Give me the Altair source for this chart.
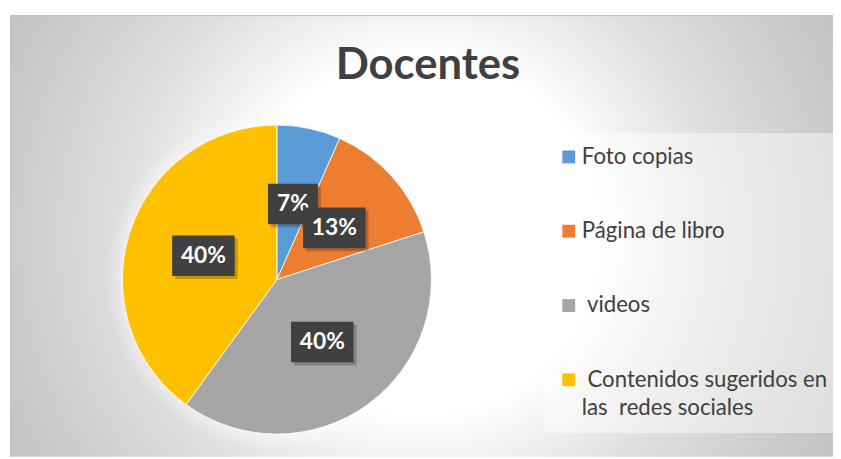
import json
import math
import altair as alt
import pandas as pd

# ---------------- data ----------------
TITLE = "Docentes"
categories = ["Foto copias", "Página de libro", " videos", " Contenidos sugeridos en las  redes sociales"]
counts = [2, 4, 12, 12]
colors = ["#5B9BD5", "#ED7D31", "#A5A5A5", "#FFC000"]
# how each legend entry is written (line breaks / kept spaces)
legend_lines = {
    " videos": ["\u200b\u00a0videos"],
    " Contenidos sugeridos en las  redes sociales": ["\u200b\u00a0Contenidos sugeridos en", "las\u00a0\u00a0redes sociales"],
}

df = pd.DataFrame({"category": categories, "count": counts, "idx": list(range(len(categories)))})

# ---------------- layout ----------------
W, H = 831, 446
CX, CY, R = 269.5, 267, 156

label_expr = "datum.label"
for k, v in legend_lines.items():
    label_expr = f"datum.label === {json.dumps(k, ensure_ascii=False)} ? {json.dumps(v, ensure_ascii=False)} : ({label_expr})"

one = pd.DataFrame({"a": [0]})

bg = alt.Chart(one).mark_rect(
    clip=True,
    color=alt.RadialGradient(
        gradient="radial",
        stops=[
            alt.GradientStop(color="#ffffff", offset=0),
            alt.GradientStop(color="#ffffff", offset=0.38),
            alt.GradientStop(color="#f3f3f3", offset=0.47),
            alt.GradientStop(color="#dfdfdf", offset=0.64),
            alt.GradientStop(color="#cbcbcb", offset=0.88),
            alt.GradientStop(color="#c3c3c3", offset=1),
        ],
        x1=0.5, y1=0.5, r1=0, x2=0.5, y2=0.5, r2=0.567,
    ),
).encode(x=alt.value(0), x2=alt.value(W), y=alt.value(223 - 415.5), y2=alt.value(223 + 415.5))

border_top = alt.Chart(one).mark_rule(color="#bdbdbd", strokeWidth=1).encode(
    x=alt.value(0), x2=alt.value(W), y=alt.value(0.5))
border_left = alt.Chart(one).mark_rule(color="#c0c0c0", strokeWidth=1).encode(
    x=alt.value(0.5), y=alt.value(0), y2=alt.value(H))

halo = alt.Chart(one).mark_arc(
    outerRadius=R + 17, theta=0, theta2=2 * math.pi,
    color=alt.RadialGradient(
        gradient="radial",
        stops=[
            alt.GradientStop(color="rgba(255,255,255,0.5)", offset=0),
            alt.GradientStop(color="rgba(255,255,255,0.5)", offset=0.88),
            alt.GradientStop(color="rgba(255,255,255,0)", offset=1),
        ],
        x1=0.5, y1=0.5, r1=0, x2=0.5, y2=0.5, r2=0.5,
    ),
).encode(x=alt.value(CX), y=alt.value(CY))

pie = alt.Chart(df).mark_arc(outerRadius=R, stroke="#ffffff", strokeWidth=0.8).encode(
    theta=alt.Theta("count:Q", stack=True),
    order=alt.Order("idx:Q"),
    color=alt.Color(
        "category:N",
        sort=categories,
        scale=alt.Scale(domain=categories, range=colors),
        legend=alt.Legend(
            title=None, orient="none", legendX=540, legendY=119, padding=13,
            fillColor="rgba(255,255,255,0.45)",
            symbolType="square", symbolSize=169, symbolStrokeWidth=0,
            labelFont="Lato", labelFontSize=22.4, labelColor="#404040",
            labelOffset=2, rowPadding=52, labelLimit=400,
            labelExpr=label_expr,
        ),
    ),
    x=alt.value(CX), y=alt.value(CY),
)

xs = alt.Scale(domain=[-1, 1], range=[CX - R, CX + R])
ys = alt.Scale(domain=[-1, 1], range=[CY + R, CY - R])

base = alt.Chart(df).transform_joinaggregate(
    total="sum(count)"
).transform_window(
    cum="sum(count)", sort=[alt.SortField("idx")], frame=[None, 0]
).transform_calculate(
    mid="2*PI*(datum.cum - datum.count/2)/datum.total",
    lx="0.5*sin(datum.mid)",
    ly="0.5*cos(datum.mid)",
    pct="format(datum.count/datum.total, '.0%')",
    w="25 + 12.7*length(format(datum.count/datum.total, '.0%'))",
).transform_calculate(
    box="'M' + (-datum.w/2) + ',-20.5h' + datum.w + 'v41h' + (-datum.w) + 'Z'",
    shadow="'M' + (-datum.w/2 + 3) + ',-17.5h' + datum.w + 'v41h' + (-datum.w) + 'Z'",
)

pos = dict(x=alt.X("lx:Q", scale=xs, axis=None), y=alt.Y("ly:Q", scale=ys, axis=None))


def label_layers(flt):
    b = base.transform_filter(flt)
    sh = b.mark_point(filled=True, size=4, color="#000000", opacity=0.22, strokeWidth=0).encode(
        shape=alt.Shape("shadow:N", scale=None), **pos)
    bx = b.mark_point(filled=True, size=4, color="#404040", opacity=1, strokeWidth=0).encode(
        shape=alt.Shape("box:N", scale=None), **pos)
    tx = b.mark_text(font="Lato", fontSize=23, fontWeight="bold", color="#ffffff",
                     align="center", baseline="middle").encode(text="pct:N", **pos)
    return [sh, bx, tx]


title = alt.Chart(pd.DataFrame({"t": [TITLE]})).mark_text(
    font="Lato", fontSize=44, fontWeight="bold", color="#404040",
    align="center", baseline="alphabetic",
).encode(x=alt.value(422), y=alt.value(65), text="t:N")

chart = alt.layer(
    bg, border_top, border_left, halo, pie,
    *label_layers("datum.idx == 0"),
    *label_layers("datum.idx > 0"),
    title,
).properties(
    width=W, height=H,
    padding={"left": 2, "top": 5, "right": 0, "bottom": 0},
    autosize="none",
    background="#ffffff",
).configure(
    style={"guide-label": {"lineHeight": 29}}
).configure_view(stroke=None)

chart.save("out.html", embed_options={"renderer": "svg", "actions": False})
